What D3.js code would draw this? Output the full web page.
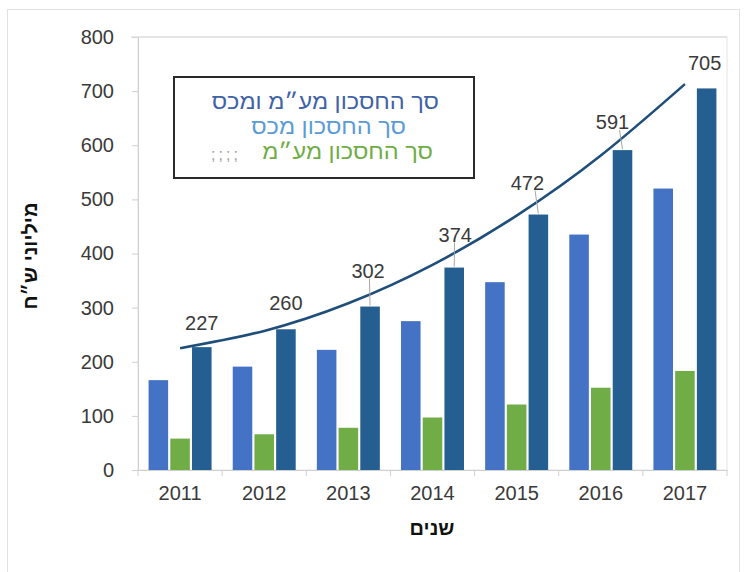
<!DOCTYPE html>
<html><head><meta charset="utf-8">
<script src="https://cdn.jsdelivr.net/npm/d3@7"></script>
<style>
html,body{margin:0;padding:0;background:#fff;}
svg{display:block;font-family:"Liberation Sans",Arial,"DejaVu Sans",sans-serif;}
</style></head><body>
<svg id="c" width="744" height="572"></svg>
<script>
const years = ["2011","2012","2013","2014","2015","2016","2017"];
const customs = [166, 191, 222, 275, 347, 435, 520];   // סך החסכון מכס
const vat = [58, 66, 78, 97, 121, 152, 183];            // סך החסכון מע"מ
const total = [227, 260, 302, 374, 472, 591, 705];      // סך החסכון מע"מ ומכס
const trend = [225, 257, 308, 379, 470, 581, 713];      // polynomial trendline (read)
const yTicks = [0, 100, 200, 300, 400, 500, 600, 700, 800];
const seriesKeys = ["customs", "vat", "total"];
const seriesColors = {customs: "#4472C4", vat: "#70AD47", total: "#255E91"};
const legendLines = [
  {text: "סך החסכון מע״מ ומכס", color: "#3F62A6"},
  {text: "סך החסכון מכס", color: "#5B9BD5"},
  {text: "סך החסכון מע״מ", color: "#6FAD46"}
];

const svg = d3.select("#c");
const L = 138, R = 727, T = 37, B = 470;

// outer frame
svg.append("rect").attr("x", 7.5).attr("y", 9.5).attr("width", 732).attr("height", 570)
  .attr("fill", "#fff").attr("stroke", "#e2e2e2").attr("stroke-width", 1);

const y = d3.scaleLinear().domain([0, 800]).range([B, T]);
const x0 = d3.scaleBand().domain(years).range([L, R]).paddingInner(0.2).paddingOuter(0.1);
const x1 = d3.scaleBand().domain(seriesKeys).range([0, x0.bandwidth()]).padding(0.1);

// plot frame
svg.append("rect").attr("x", L).attr("y", T).attr("width", R - L).attr("height", B - T)
  .attr("fill", "none").attr("stroke", "#e4e4e4");

// y axis
const yAxis = svg.append("g").attr("transform", `translate(${L},0)`)
  .call(d3.axisLeft(y).tickValues(yTicks).tickSize(6).tickPadding(18));
yAxis.select(".domain").attr("stroke", "#d0d0d0");
yAxis.selectAll(".tick line").attr("stroke", "#d0d0d0");
yAxis.selectAll("text").attr("fill", "#3a3a3a").style("font-size", "20px");
svg.append("line").attr("x1", L - 7).attr("x2", R).attr("y1", T).attr("y2", T).attr("stroke", "#d8d8d8");

// x axis
const xAxis = svg.append("g").attr("transform", `translate(0,${B})`)
  .call(d3.axisBottom(x0).tickSize(0).tickPadding(16));
xAxis.select(".domain").attr("stroke", "#d0d0d0");
xAxis.selectAll("text").attr("fill", "#3a3a3a").style("font-size", "20px");
const step = x0.step();
svg.append("g").selectAll("line").data(d3.range(years.length + 1)).join("line")
  .attr("x1", i => L + i * step).attr("x2", i => L + i * step)
  .attr("y1", B).attr("y2", B + 6).attr("stroke", "#d0d0d0");

// bars
const rows = years.map((yr, i) => ({year: yr, customs: customs[i], vat: vat[i], total: total[i]}));
const g = svg.append("g");
rows.forEach(r => {
  seriesKeys.forEach(k => {
    g.append("rect")
      .attr("x", x0(r.year) + x1(k))
      .attr("y", y(r[k]))
      .attr("width", x1.bandwidth())
      .attr("height", B - y(r[k]))
      .attr("fill", seriesColors[k]);
  });
});

// trendline
const cx = yr => x0(yr) + x0.bandwidth() / 2;
const line = d3.line().x((d, i) => cx(years[i])).y(d => y(d)).curve(d3.curveNatural);
svg.append("path").datum(trend).attr("d", line)
  .attr("fill", "none").attr("stroke", "#1F4E79").attr("stroke-width", 2.6);

// data labels
const lblOff = [24, 26, 36, 33, 32, 28, 25];
const lblDx = [0, 0, -2, 1, -11, -10, -2];
total.forEach((v, i) => {
  const bx = x0(years[i]) + x1("total") + x1.bandwidth() / 2;
  const ly = y(v) - lblOff[i];
  if (lblOff[i] > 27) {
    svg.append("line").attr("x1", bx + lblDx[i] * 0.3).attr("x2", bx)
      .attr("y1", ly + 8).attr("y2", y(v) - 1).attr("stroke", "#a6a6a6").attr("stroke-width", 1);
  }
  svg.append("text").attr("x", bx + lblDx[i]).attr("y", ly)
    .attr("text-anchor", "middle").attr("dy", "0.35em")
    .attr("fill", "#3a3a3a").style("font-size", "20px").text(v);
});

// legend box
svg.append("rect").attr("x", 174).attr("y", 77).attr("width", 300).attr("height", 101)
  .attr("fill", "#fff").attr("stroke", "#2a2a2a").attr("stroke-width", 2);
const lxRight = [439, 406, 433];
const ly = [102, 127, 152];
legendLines.forEach((d, i) => {
  svg.append("g").attr("transform", `translate(${lxRight[i]},${ly[i]}) scale(1.12,1)`)
    .append("text").attr("x", 0).attr("y", 0).attr("dy", "0.35em")
    .attr("text-anchor", "end").attr("direction", "ltr")
    .attr("fill", d.color).style("font-size", "21px").text(d.text);
});
svg.append("text").attr("x", 226).attr("y", 154).attr("dy", "0.35em")
  .attr("text-anchor", "middle").attr("fill", "#a0a0a0").style("font-size", "16px")
  .style("letter-spacing", "3px").text(";;;;");

// axis titles
svg.append("text").attr("transform", "translate(30,256) rotate(-90)")
  .attr("text-anchor", "middle").attr("dy", "0.35em")
  .style("font-size", "20px").style("font-weight", "bold").attr("fill", "#111")
  .text("מיליוני ש״ח");
svg.append("text").attr("x", 432).attr("y", 528).attr("text-anchor", "middle").attr("dy", "0.35em")
  .style("font-size", "20px").style("font-weight", "bold").attr("fill", "#111")
  .text("שנים");
</script>
</body></html>
